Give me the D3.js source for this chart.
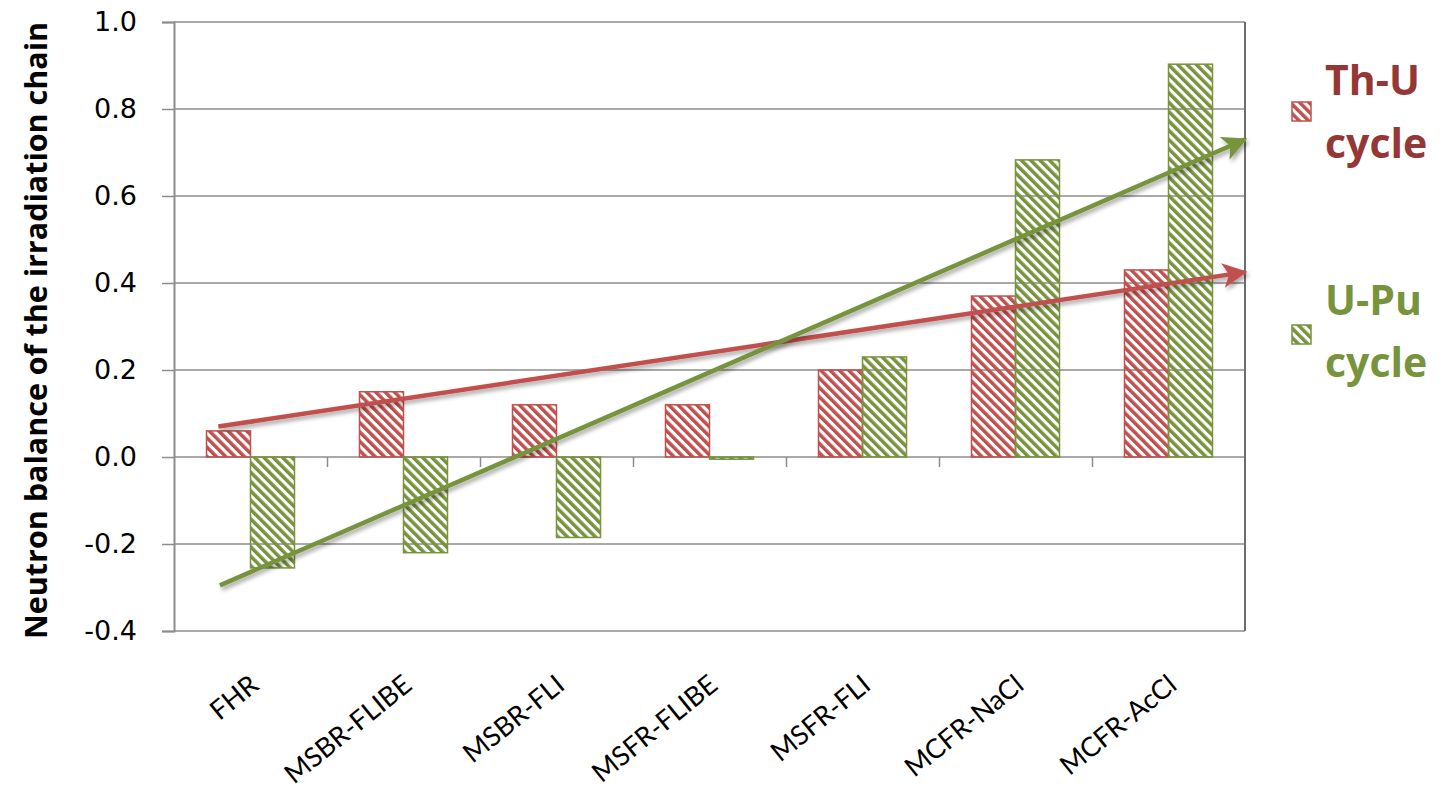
<!DOCTYPE html>
<html>
<head>
<meta charset="utf-8">
<script src="https://cdn.jsdelivr.net/npm/d3@7"></script>
<style>
  html, body { margin: 0; padding: 0; background: #fff; }
  svg { display: block; }
</style>
</head>
<body>
<svg id="chart" width="1439" height="788"></svg>
<script>
// Reactor concepts along the x axis
const categories = ["FHR", "MSBR-FLIBE", "MSBR-FLI", "MSFR-FLIBE", "MSFR-FLI", "MCFR-NaCl", "MCFR-AcCl"];
// Neutron balance per concept for each fuel cycle
const thU  = [0.06, 0.15, 0.12, 0.12, 0.20, 0.37, 0.43];
const uPu  = [-0.255, -0.22, -0.185, -0.005, 0.23, 0.683, 0.903];
const yTicks = [-0.4, -0.2, 0.0, 0.2, 0.4, 0.6, 0.8, 1.0];
// Trend arrows: [category position, value] for start and end
const thUTrend = [[0.29, 0.07], [7.0, 0.425]];
const uPuTrend = [[0.30, -0.295], [7.0, 0.73]];

const RED = "#C0504D", GREEN = "#77933C";
const RED_TXT = "#953735";

const svg = d3.select("#chart");
const plotL = 174, plotR = 1245, plotT = 22, plotB = 631;

const y = d3.scaleLinear().domain([-0.4, 1.0]).range([plotB, plotT]);
const x = d3.scaleBand().domain(categories).range([plotL, plotR]).paddingInner(0).paddingOuter(0);
const xc = d3.scaleLinear().domain([0, categories.length]).range([plotL, plotR]);
const barW = 44;

// Wide downward-diagonal hatch patterns
const defs = svg.append("defs");
function hatch(id, color) {
  const p = defs.append("pattern").attr("id", id)
    .attr("patternUnits", "userSpaceOnUse").attr("width", 6.6).attr("height", 6.6)
    .attr("patternTransform", "rotate(-45)");
  p.append("rect").attr("x", 0).attr("y", 0).attr("width", 3.5).attr("height", 6.6).attr("fill", color);
}
hatch("hRed", RED);
hatch("hGreen", GREEN);

const shadow = defs.append("filter").attr("id", "shadow").attr("x", "-5%").attr("y", "-50%").attr("width", "110%").attr("height", "200%");
shadow.append("feDropShadow").attr("dx", 2).attr("dy", 3).attr("stdDeviation", 2).attr("flood-color", "#000").attr("flood-opacity", 0.35);

function marker(id, color) {
  defs.append("marker").attr("id", id)
    .attr("viewBox", "0 0 10 10").attr("refX", 9).attr("refY", 5)
    .attr("markerWidth", 6.5).attr("markerHeight", 5.5).attr("markerUnits", "strokeWidth")
    .attr("orient", "auto")
    .append("path").attr("d", "M0,0 L10,5 L0,10 L2.5,5 Z").attr("fill", color);
}
marker("aRed", RED);
marker("aGreen", GREEN);

// Gridlines
svg.append("g").selectAll("line").data(yTicks).join("line")
  .attr("x1", plotL).attr("x2", plotR)
  .attr("y1", d => y(d)).attr("y2", d => y(d))
  .attr("stroke", "#8c8c8c").attr("stroke-width", 1.5);

// Right plot border
svg.append("line").attr("x1", plotR).attr("x2", plotR).attr("y1", plotT).attr("y2", plotB)
  .attr("stroke", "#6e6e6e").attr("stroke-width", 2);

// Y axis
const fmt = d => d3.format(".1f")(d).replace("\u2212", "-");
const yAxis = d3.axisLeft(y).tickValues(yTicks).tickFormat(fmt).tickSize(12).tickPadding(25);
const gy = svg.append("g").attr("transform", `translate(${plotL},0)`).call(yAxis);
gy.select(".domain").attr("stroke", "#8c8c8c").attr("stroke-width", 2);
gy.selectAll(".tick line").attr("stroke", "#8c8c8c").attr("stroke-width", 1.5);
gy.selectAll(".tick text").attr("font-family", "DejaVu Sans, Verdana, sans-serif").attr("font-size", 27).attr("fill", "#000");

// Category tick marks on the zero line
const gx = svg.append("g").attr("transform", `translate(0,${y(0)})`)
  .call(d3.axisBottom(xc).tickValues(d3.range(1, categories.length)).tickSize(10).tickFormat(""));
gx.select(".domain").remove();
gx.selectAll(".tick line").attr("stroke", "#8c8c8c").attr("stroke-width", 1.5);

// Category labels
svg.append("g").selectAll("text").data(categories).join("text")
  .attr("transform", d => `translate(${x(d) + x.bandwidth() / 2 + 10},${688}) rotate(-39)`)
  .attr("text-anchor", "end")
  .attr("font-family", "Lato, Open Sans, sans-serif").attr("font-size", 27)
  .attr("fill", "#000")
  .text(d => d);

// Bars
function bars(vals, offset, pat, color) {
  svg.append("g").selectAll("rect").data(vals).join("rect")
    .attr("x", (d, i) => x(categories[i]) + x.bandwidth() / 2 + offset)
    .attr("width", barW)
    .attr("y", d => y(Math.max(0, d)))
    .attr("height", d => Math.abs(y(d) - y(0)))
    .attr("fill", `url(#${pat})`)
    .attr("stroke", color).attr("stroke-width", 1.5);
}
bars(thU, -barW, "hRed", RED);
bars(uPu, 0, "hGreen", GREEN);

// Trend arrows
const line = d3.line().x(d => xc(d[0])).y(d => y(d[1]));
svg.append("path").datum(thUTrend).attr("d", line)
  .attr("stroke", RED).attr("stroke-width", 4.5).attr("fill", "none")
  .attr("marker-end", "url(#aRed)").attr("filter", "url(#shadow)");
svg.append("path").datum(uPuTrend).attr("d", line)
  .attr("stroke", GREEN).attr("stroke-width", 4.5).attr("fill", "none")
  .attr("marker-end", "url(#aGreen)").attr("filter", "url(#shadow)");

// Y axis title
svg.append("text")
  .attr("transform", `translate(47,${(plotT + plotB) / 2 + 4}) rotate(-90)`)
  .attr("text-anchor", "middle")
  .attr("font-family", "Open Sans, Lato, sans-serif").attr("font-weight", "bold").attr("font-size", 30.5)
  .attr("fill", "#000")
  .text("Neutron balance of the irradiation chain");

// Legend
const legend = [
  { label: ["Th-U", "cycle"], pat: "hRed", color: RED, text: RED_TXT, box: 102, l1: 95, l2: 158 },
  { label: ["U-Pu", "cycle"], pat: "hGreen", color: GREEN, text: GREEN, box: 325, l1: 315, l2: 377 }
];
const lg = svg.append("g").selectAll("g").data(legend).join("g");
lg.append("rect").attr("x", 1292).attr("y", d => d.box).attr("width", 19).attr("height", 19)
  .attr("fill", d => `url(#${d.pat})`).attr("stroke", d => d.color).attr("stroke-width", 1.5);
lg.append("text").attr("x", 1325).attr("y", d => d.l1)
  .attr("font-family", "Open Sans, Lato, sans-serif").attr("font-weight", "bold").attr("font-size", 41)
  .attr("fill", d => d.text).text(d => d.label[0]);
lg.append("text").attr("x", 1325).attr("y", d => d.l2)
  .attr("font-family", "Open Sans, Lato, sans-serif").attr("font-weight", "bold").attr("font-size", 41)
  .attr("fill", d => d.text).text(d => d.label[1]);
</script>
</body>
</html>
